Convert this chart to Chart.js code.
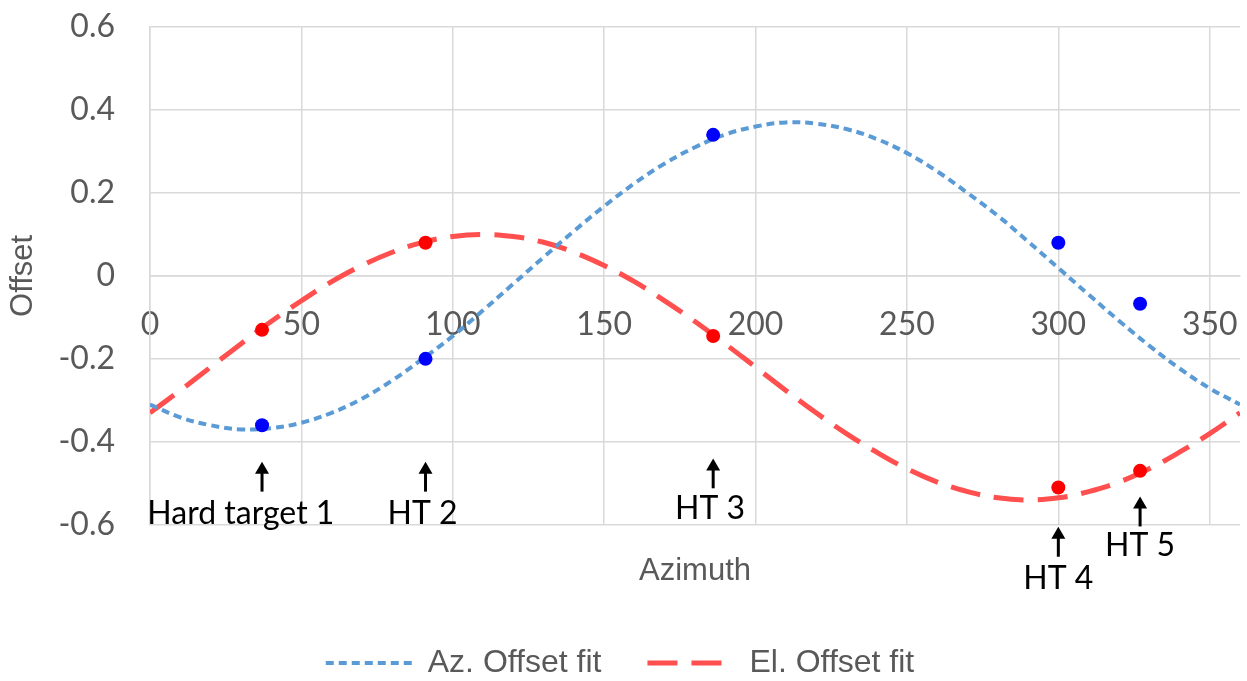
<!DOCTYPE html>
<html>
<head>
<meta charset="utf-8">
<script src="https://cdn.jsdelivr.net/npm/chart.js@4"></script>
<style>
  html, body { margin: 0; padding: 0; background: #fff; }
  #wrap { width: 1247px; height: 681px; }
</style>
</head>
<body>
<div id="wrap"><canvas id="offset-chart"></canvas></div>
<script>
// Fit curves, every 10 degrees of azimuth
const fitAzimuth = [0, 10, 20, 30, 40, 50, 60, 70, 80, 90, 100, 110, 120, 130, 140, 150, 160, 170, 180,
    190, 200, 210, 220, 230, 240, 250, 260, 270, 280, 290, 300, 310, 320, 330, 340, 350, 360];
const azOffsetFit = [-0.31, -0.341, -0.36, -0.37, -0.367, -0.354, -0.33, -0.296, -0.252, -0.2, -0.145,
    -0.083, -0.019, 0.045, 0.108, 0.168, 0.223, 0.271, 0.31, 0.341, 0.36, 0.37, 0.367, 0.354, 0.33, 0.296,
    0.252, 0.2, 0.145, 0.083, 0.019, -0.045, -0.108, -0.168, -0.223, -0.271, -0.31];
const elOffsetFit = [-0.33, -0.276, -0.22, -0.164, -0.11, -0.06, -0.014, 0.025, 0.057, 0.081, 0.095, 0.1,
    0.095, 0.081, 0.057, 0.025, -0.014, -0.06, -0.11, -0.164, -0.22, -0.276, -0.33, -0.38, -0.425, -0.465,
    -0.497, -0.52, -0.535, -0.54, -0.535, -0.52, -0.497, -0.465, -0.425, -0.38, -0.33];

// Measured offsets at the hard targets
const targetAzimuth = [37, 91, 186, 300, 327];
const azOffsetMeasured = [-0.36, -0.2, 0.34, 0.08, -0.067];
const elOffsetMeasured = [-0.13, 0.08, -0.145, -0.51, -0.47];

// Hard target arrows (tip / tail) and labels, in data units
const targetLabels = ["Hard target 1", "HT 2", "HT 3", "HT 4", "HT 5"];
const arrowTip = [-0.448, -0.448, -0.44, -0.605, -0.532];
const arrowTail = [-0.52, -0.52, -0.512, -0.677, -0.604];
const labelAzimuth = [30, 90, 185, 300, 327];
const labelOffset = [-0.574, -0.574, -0.562, -0.73, -0.65];

const xTicks = [0, 50, 100, 150, 200, 250, 300, 350];

const greyText = "#595959";
const gridColor = "#d9d9d9";

const toPoints = (xs, ys) => xs.map((x, i) => ({ x: x, y: ys[i] }));

// Arrows and labels for the hard targets
const hardTargetPlugin = {
    id: "hardTargets",
    afterDatasetsDraw(chart) {
        const { ctx, scales: { x, y } } = chart;
        ctx.save();
        ctx.fillStyle = "#000";
        ctx.strokeStyle = "#000";
        ctx.lineWidth = 3;
        targetAzimuth.forEach((az, i) => {
            const px = x.getPixelForValue(az);
            const tip = y.getPixelForValue(arrowTip[i]);
            const tail = y.getPixelForValue(arrowTail[i]);
            ctx.beginPath();
            ctx.moveTo(px, tail);
            ctx.lineTo(px, tip + 8);
            ctx.stroke();
            ctx.beginPath();
            ctx.moveTo(px, tip);
            ctx.lineTo(px - 7, tip + 12);
            ctx.lineTo(px + 7, tip + 12);
            ctx.closePath();
            ctx.fill();

            ctx.font = "32px Lato";
            ctx.textAlign = "center";
            ctx.textBaseline = "middle";
            ctx.fillText(targetLabels[i], x.getPixelForValue(labelAzimuth[i]), y.getPixelForValue(labelOffset[i]));
        });
        ctx.restore();
    },
};

// Legend samples keep the dash pattern of their line
function fitLegendLabels(chart) {
    const items = Chart.defaults.plugins.legend.labels.generateLabels(chart);
    return items.map((item) => {
        const ds = chart.data.datasets[item.datasetIndex];
        return Object.assign(item, {
            strokeStyle: ds.borderColor,
            lineWidth: ds.borderWidth,
            lineDash: ds.borderDash,
            pointStyle: "line",
        });
    });
}

const chart = new Chart(document.getElementById("offset-chart"), {
    type: "scatter",
    data: {
        datasets: [
            {
                label: "Az. Offset fit",
                data: toPoints(fitAzimuth, azOffsetFit),
                showLine: true,
                borderColor: "#5b9bd5",
                borderWidth: 4,
                borderDash: [8, 5],
                pointRadius: 0,
                tension: 0.4,
                order: 2,
            },
            {
                label: "El. Offset fit",
                data: toPoints(fitAzimuth, elOffsetFit),
                showLine: true,
                borderColor: "#ff4f4f",
                borderWidth: 5,
                borderDash: [30, 14],
                pointRadius: 0,
                tension: 0.4,
                order: 2,
            },
            {
                label: "Az. Offset",
                data: toPoints(targetAzimuth, azOffsetMeasured),
                backgroundColor: "#0000ff",
                borderWidth: 0,
                pointRadius: 7,
                order: 1,
            },
            {
                label: "El. Offset",
                data: toPoints(targetAzimuth, elOffsetMeasured),
                backgroundColor: "#ff0000",
                borderWidth: 0,
                pointRadius: 7,
                order: 1,
            },
        ],
    },
    options: {
        responsive: true,
        maintainAspectRatio: false,
        animation: false,
        layout: { padding: { top: 27, right: 7, bottom: -8, left: 0 } },
        scales: {
            x: {
                type: "linear",
                position: { y: 0 },
                min: 0,
                max: 360,
                afterBuildTicks: (scale) => {
                    scale.ticks = xTicks.concat([360]).map((v) => ({ value: v }));
                },
                afterFit: (scale) => {
                    scale.paddingLeft = 0;
                    scale.paddingRight = 0;
                },
                ticks: {
                    padding: 30,
                    color: greyText,
                    font: { family: "Lato", size: 32 },
                    callback: (v) => (v === 360 ? "" : v),
                },
                grid: {
                    drawTicks: false,
                    lineWidth: 1.5,
                    color: (c) => (c.tick && c.tick.value === 360 ? "rgba(0,0,0,0)" : gridColor),
                },
                border: { color: gridColor, width: 1.5 },
            },
            y: {
                min: -0.6,
                max: 0.6,
                afterFit: (scale) => {
                    scale.width = 150;
                    scale.paddingTop = 0;
                    scale.paddingBottom = 0;
                },
                ticks: {
                    stepSize: 0.2,
                    padding: 35,
                    color: greyText,
                    font: { family: "Lato", size: 32 },
                    callback: (v) => String(Math.round(v * 10) / 10),
                },
                grid: { drawTicks: false, lineWidth: 1.5, color: gridColor },
                border: { color: gridColor, width: 1.5 },
                title: {
                    display: true,
                    text: "Offset",
                    color: greyText,
                    font: { family: "Liberation Sans", size: 31 },
                    padding: { top: 5, bottom: 0 },
                },
            },
        },
        plugins: {
            title: {
                display: true,
                text: "Azimuth",
                position: "bottom",
                fullSize: false,
                weight: 500,
                color: greyText,
                font: { family: "Liberation Sans", size: 31, weight: "normal" },
                padding: { top: 28, bottom: 11 },
            },
            legend: {
                position: "bottom",
                labels: {
                    generateLabels: fitLegendLabels,
                    filter: (item) => item.text.endsWith("fit"),
                    usePointStyle: true,
                    pointStyleWidth: 86,
                    padding: 46,
                    color: greyText,
                    font: { family: "Liberation Sans", size: 32 },
                },
            },
            tooltip: { enabled: false },
        },
    },
    plugins: [hardTargetPlugin],
});
</script>
</body>
</html>
